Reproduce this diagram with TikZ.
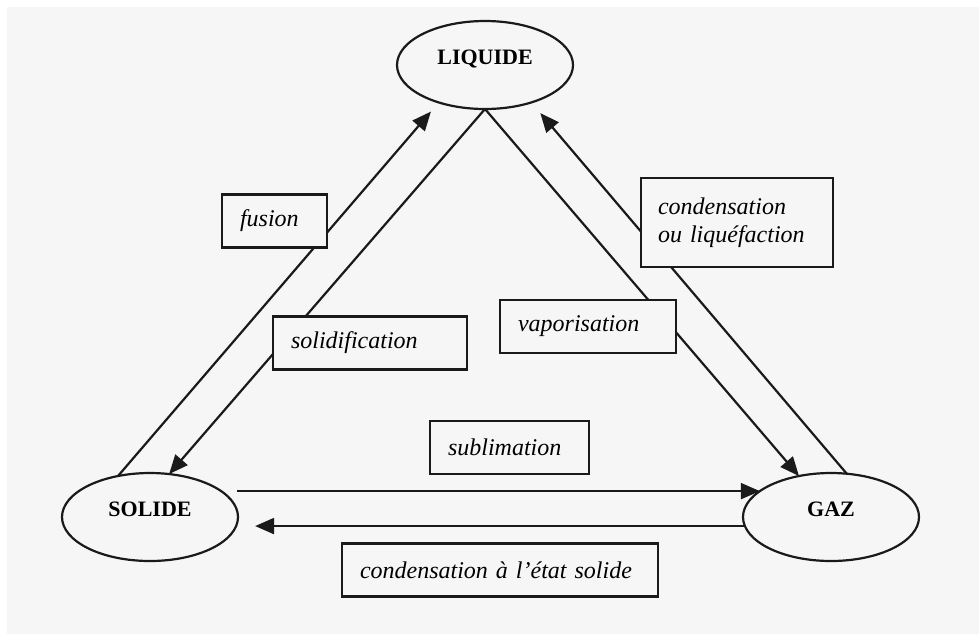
\documentclass[tikz,border=0pt]{standalone}
\usepackage{fontspec}
\setmainfont{Liberation Serif}
\usetikzlibrary{arrows.meta, shapes.geometric, positioning}
\definecolor{paper}{HTML}{F6F6F6}
\definecolor{ink}{HTML}{1A1A1A}

\begin{document}
\begin{tikzpicture}[
    x=0.5pt, y=-0.5pt,
    state/.style={ellipse, draw=ink, line width=1.1pt, fill=paper, minimum width=88pt, minimum height=44pt,
      inner sep=0pt, outer sep=0pt, text height=7.3pt, text depth=8pt, font=\fontsize{11}{13}\selectfont\bfseries},
    change/.style={rectangle, draw=ink, line width=1.1pt, fill=paper, minimum height=26.5pt, text width=#1,
      inner xsep=9pt, inner ysep=0pt, align=left, font=\fontsize{12}{14}\selectfont\itshape},
    flow/.style={->, draw=ink, line width=1.1pt},
    >={Triangle[length=9.5pt, width=8pt]}
  ]
  \fill[white] (0,0) rectangle (979,634);
  \fill[paper] (7,7) rectangle (979,634);

  % States
  \node[state] (liq) at (485,65) {LIQUIDE};
  \node[state] (sol) at (150,517) {SOLIDE};
  \node[state] (gaz) at (831,517) {GAZ};

  % Changes of state
  \draw[flow, shorten >=6pt] (sol.128) -- (liq.219);
  \draw[flow] (liq.south) -- (sol.66);
  \draw[flow] (liq.south) -- (gaz.128);
  \draw[flow, shorten >=7pt] (gaz.70) -- (liq.321);
  \draw[flow, shorten <=8pt] (sol.20) -- (gaz.160);
  \draw[flow, shorten >=9.5pt] (gaz.186) -- (sol.354);

  % Labels (boxes drawn over the lines)
  \node[change=34.5pt] (fus) at (274.5,221) {fusion};
  \node[change=79pt] (solid) at (370,343) {solidification};
  \node[change=70pt] (vap) at (588,326.5) {vaporisation};
  \node[change=79pt, minimum height=44.5pt, inner xsep=8.5pt] (liqf) at (737,222.5) {condensation\\ou liquéfaction};
  \node[change=61.5pt] (subl) at (509.5,447.5) {sublimation};
  \node[change=140pt] (depo) at (500,570) {condensation à l'état solide};
\end{tikzpicture}
\end{document}
